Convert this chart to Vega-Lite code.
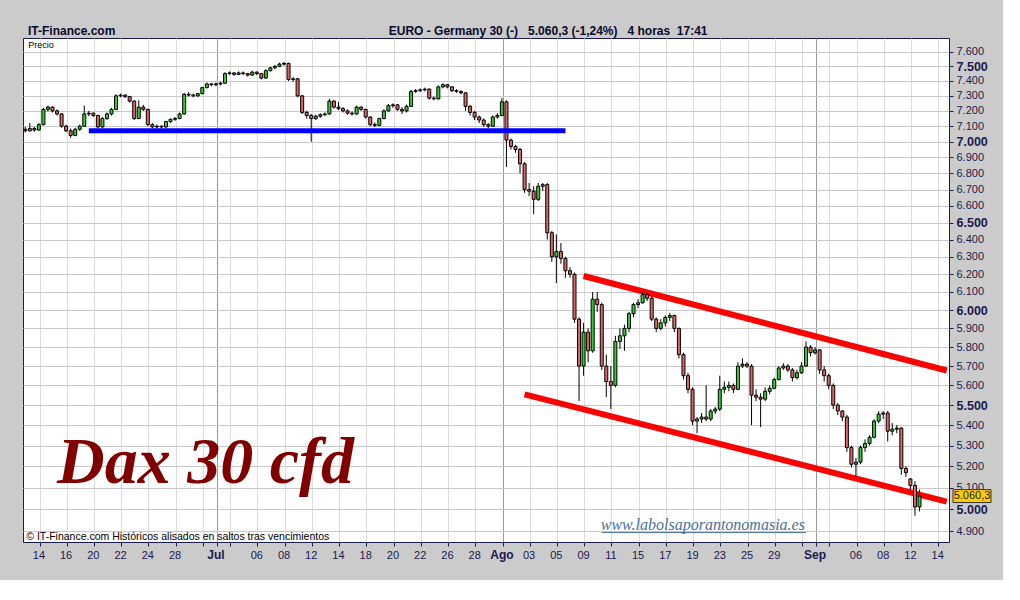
{
"$schema": "https://vega.github.io/schema/vega-lite/v6.json",
"width": 926, "height": 504,
"autosize": {"type": "none"},
"padding": {"left": 23, "top": 38, "right": 54, "bottom": 38},
"background": "#cbcbcb",
"title": {"text": "IT-Finance.com\u00a0\u00a0\u00a0\u00a0\u00a0\u00a0\u00a0\u00a0\u00a0\u00a0\u00a0\u00a0\u00a0\u00a0\u00a0\u00a0\u00a0\u00a0\u00a0\u00a0\u00a0\u00a0\u00a0\u00a0\u00a0\u00a0\u00a0\u00a0\u00a0\u00a0\u00a0\u00a0\u00a0\u00a0\u00a0\u00a0\u00a0\u00a0\u00a0\u00a0\u00a0\u00a0\u00a0\u00a0\u00a0\u00a0\u00a0\u00a0\u00a0\u00a0\u00a0\u00a0\u00a0\u00a0\u00a0\u00a0\u00a0\u00a0\u00a0\u00a0\u00a0\u00a0\u00a0\u00a0\u00a0\u00a0\u00a0\u00a0\u00a0\u00a0\u00a0\u00a0\u00a0\u00a0\u00a0\u00a0\u00a0\u00a0\u00a0\u00a0\u00a0\u00a0EURO - Germany 30 (-)\u00a0\u00a0\u00a05.060,3 (-1,24%)\u00a0\u00a0\u00a04 horas\u00a0\u00a017:41", "anchor": "start", "frame": "group", "dx": 5, "dy": 15, "offset": 3, "baseline": "bottom", "font": "Liberation Sans", "fontSize": 12, "fontWeight": "bold", "color": "#0a0a2a"},
"datasets": {
"ohlc": [
{"t":"2011-06-13 09h","o":7080,"h":7095,"l":7060,"c":7070},{"t":"2011-06-13 13h","o":7070,"h":7120,"l":7065,"c":7085},{"t":"2011-06-13 17h","o":7085,"h":7095,"l":7065,"c":7075},
{"t":"2011-06-14 09h","o":7075,"h":7120,"l":7070,"c":7110},{"t":"2011-06-14 13h","o":7110,"h":7220,"l":7105,"c":7210},{"t":"2011-06-14 17h","o":7210,"h":7235,"l":7195,"c":7225},
{"t":"2011-06-15 09h","o":7225,"h":7230,"l":7190,"c":7200},{"t":"2011-06-15 13h","o":7200,"h":7210,"l":7170,"c":7180},{"t":"2011-06-15 17h","o":7180,"h":7185,"l":7090,"c":7100},
{"t":"2011-06-16 09h","o":7100,"h":7110,"l":7060,"c":7070},{"t":"2011-06-16 13h","o":7070,"h":7085,"l":7025,"c":7040},{"t":"2011-06-16 17h","o":7040,"h":7090,"l":7035,"c":7080},
{"t":"2011-06-17 09h","o":7080,"h":7110,"l":7070,"c":7100},{"t":"2011-06-17 13h","o":7100,"h":7235,"l":7095,"c":7180},{"t":"2011-06-17 17h","o":7180,"h":7200,"l":7165,"c":7185},
{"t":"2011-06-20 09h","o":7185,"h":7190,"l":7160,"c":7170},{"t":"2011-06-20 13h","o":7170,"h":7175,"l":7085,"c":7095},{"t":"2011-06-20 17h","o":7095,"h":7160,"l":7090,"c":7150},
{"t":"2011-06-21 09h","o":7150,"h":7190,"l":7140,"c":7180},{"t":"2011-06-21 13h","o":7180,"h":7220,"l":7170,"c":7210},{"t":"2011-06-21 17h","o":7210,"h":7310,"l":7205,"c":7300},
{"t":"2011-06-22 09h","o":7300,"h":7315,"l":7290,"c":7305},{"t":"2011-06-22 13h","o":7305,"h":7310,"l":7285,"c":7295},{"t":"2011-06-22 17h","o":7295,"h":7300,"l":7255,"c":7265},
{"t":"2011-06-23 09h","o":7265,"h":7270,"l":7140,"c":7150},{"t":"2011-06-23 13h","o":7150,"h":7270,"l":7145,"c":7225},{"t":"2011-06-23 17h","o":7225,"h":7240,"l":7200,"c":7210},
{"t":"2011-06-24 09h","o":7210,"h":7215,"l":7100,"c":7110},{"t":"2011-06-24 13h","o":7110,"h":7120,"l":7085,"c":7095},{"t":"2011-06-24 17h","o":7095,"h":7110,"l":7085,"c":7100},
{"t":"2011-06-27 09h","o":7100,"h":7105,"l":7085,"c":7095},{"t":"2011-06-27 13h","o":7095,"h":7135,"l":7090,"c":7130},{"t":"2011-06-27 17h","o":7130,"h":7150,"l":7120,"c":7145},
{"t":"2011-06-28 09h","o":7145,"h":7160,"l":7135,"c":7150},{"t":"2011-06-28 13h","o":7150,"h":7190,"l":7145,"c":7180},{"t":"2011-06-28 17h","o":7180,"h":7320,"l":7175,"c":7310},
{"t":"2011-06-29 09h","o":7310,"h":7325,"l":7295,"c":7305},{"t":"2011-06-29 13h","o":7305,"h":7315,"l":7290,"c":7300},{"t":"2011-06-29 17h","o":7300,"h":7320,"l":7295,"c":7315},
{"t":"2011-06-30 09h","o":7315,"h":7360,"l":7310,"c":7355},{"t":"2011-06-30 13h","o":7355,"h":7390,"l":7350,"c":7380},{"t":"2011-06-30 17h","o":7380,"h":7385,"l":7365,"c":7375},
{"t":"2011-07-01 09h","o":7375,"h":7390,"l":7365,"c":7380},{"t":"2011-07-01 13h","o":7380,"h":7395,"l":7370,"c":7385},{"t":"2011-07-01 17h","o":7385,"h":7460,"l":7380,"c":7450},
{"t":"2011-07-04 09h","o":7450,"h":7465,"l":7440,"c":7455},{"t":"2011-07-04 13h","o":7455,"h":7460,"l":7435,"c":7445},{"t":"2011-07-04 17h","o":7445,"h":7465,"l":7440,"c":7455},
{"t":"2011-07-05 09h","o":7455,"h":7465,"l":7440,"c":7450},{"t":"2011-07-05 13h","o":7450,"h":7455,"l":7430,"c":7440},{"t":"2011-07-05 17h","o":7440,"h":7470,"l":7435,"c":7460},
{"t":"2011-07-06 09h","o":7460,"h":7465,"l":7440,"c":7450},{"t":"2011-07-06 13h","o":7450,"h":7455,"l":7410,"c":7420},{"t":"2011-07-06 17h","o":7420,"h":7480,"l":7415,"c":7470},
{"t":"2011-07-07 09h","o":7470,"h":7495,"l":7465,"c":7490},{"t":"2011-07-07 13h","o":7490,"h":7510,"l":7480,"c":7500},{"t":"2011-07-07 17h","o":7500,"h":7525,"l":7495,"c":7515},
{"t":"2011-07-08 09h","o":7515,"h":7530,"l":7505,"c":7520},{"t":"2011-07-08 13h","o":7520,"h":7525,"l":7400,"c":7410},{"t":"2011-07-08 17h","o":7410,"h":7425,"l":7395,"c":7415},
{"t":"2011-07-11 09h","o":7415,"h":7420,"l":7290,"c":7300},{"t":"2011-07-11 13h","o":7300,"h":7305,"l":7180,"c":7190},{"t":"2011-07-11 17h","o":7190,"h":7200,"l":7150,"c":7170},
{"t":"2011-07-12 09h","o":7170,"h":7180,"l":7000,"c":7150},{"t":"2011-07-12 13h","o":7150,"h":7175,"l":7140,"c":7165},{"t":"2011-07-12 17h","o":7165,"h":7185,"l":7155,"c":7175},
{"t":"2011-07-13 09h","o":7175,"h":7190,"l":7165,"c":7180},{"t":"2011-07-13 13h","o":7180,"h":7280,"l":7175,"c":7265},{"t":"2011-07-13 17h","o":7265,"h":7270,"l":7215,"c":7225},
{"t":"2011-07-14 09h","o":7225,"h":7260,"l":7205,"c":7215},{"t":"2011-07-14 13h","o":7215,"h":7225,"l":7190,"c":7200},{"t":"2011-07-14 17h","o":7200,"h":7210,"l":7175,"c":7185},
{"t":"2011-07-15 09h","o":7185,"h":7195,"l":7170,"c":7180},{"t":"2011-07-15 13h","o":7180,"h":7235,"l":7175,"c":7225},{"t":"2011-07-15 17h","o":7225,"h":7230,"l":7200,"c":7210},
{"t":"2011-07-18 09h","o":7210,"h":7215,"l":7150,"c":7160},{"t":"2011-07-18 13h","o":7160,"h":7165,"l":7100,"c":7110},{"t":"2011-07-18 17h","o":7110,"h":7125,"l":7095,"c":7105},
{"t":"2011-07-19 09h","o":7105,"h":7155,"l":7100,"c":7150},{"t":"2011-07-19 13h","o":7150,"h":7210,"l":7145,"c":7200},{"t":"2011-07-19 17h","o":7200,"h":7245,"l":7195,"c":7235},
{"t":"2011-07-20 09h","o":7235,"h":7250,"l":7220,"c":7240},{"t":"2011-07-20 13h","o":7240,"h":7245,"l":7200,"c":7210},{"t":"2011-07-20 17h","o":7210,"h":7225,"l":7180,"c":7200},
{"t":"2011-07-21 09h","o":7200,"h":7240,"l":7190,"c":7230},{"t":"2011-07-21 13h","o":7230,"h":7340,"l":7225,"c":7330},{"t":"2011-07-21 17h","o":7330,"h":7345,"l":7320,"c":7335},
{"t":"2011-07-22 09h","o":7335,"h":7350,"l":7325,"c":7340},{"t":"2011-07-22 13h","o":7340,"h":7355,"l":7330,"c":7345},{"t":"2011-07-22 17h","o":7345,"h":7350,"l":7275,"c":7285},
{"t":"2011-07-25 09h","o":7285,"h":7295,"l":7270,"c":7280},{"t":"2011-07-25 13h","o":7280,"h":7370,"l":7275,"c":7360},{"t":"2011-07-25 17h","o":7360,"h":7385,"l":7350,"c":7375},
{"t":"2011-07-26 09h","o":7375,"h":7380,"l":7350,"c":7360},{"t":"2011-07-26 13h","o":7360,"h":7365,"l":7325,"c":7335},{"t":"2011-07-26 17h","o":7335,"h":7345,"l":7320,"c":7330},
{"t":"2011-07-27 09h","o":7330,"h":7335,"l":7310,"c":7320},{"t":"2011-07-27 13h","o":7320,"h":7325,"l":7200,"c":7230},{"t":"2011-07-27 17h","o":7230,"h":7240,"l":7170,"c":7190},
{"t":"2011-07-28 09h","o":7190,"h":7200,"l":7140,"c":7160},{"t":"2011-07-28 13h","o":7160,"h":7170,"l":7120,"c":7140},{"t":"2011-07-28 17h","o":7140,"h":7150,"l":7095,"c":7110},
{"t":"2011-07-29 09h","o":7110,"h":7120,"l":7085,"c":7100},{"t":"2011-07-29 13h","o":7100,"h":7170,"l":7095,"c":7160},{"t":"2011-07-29 17h","o":7160,"h":7185,"l":7150,"c":7170},
{"t":"2011-08-01 09h","o":7170,"h":7285,"l":7165,"c":7260},{"t":"2011-08-01 13h","o":7260,"h":7270,"l":6840,"c":7010},{"t":"2011-08-01 17h","o":7010,"h":7020,"l":6950,"c":6970},
{"t":"2011-08-02 09h","o":6970,"h":6980,"l":6930,"c":6950},{"t":"2011-08-02 13h","o":6950,"h":6960,"l":6800,"c":6860},{"t":"2011-08-02 17h","o":6860,"h":6870,"l":6680,"c":6700},
{"t":"2011-08-03 09h","o":6700,"h":6740,"l":6660,"c":6690},{"t":"2011-08-03 13h","o":6690,"h":6720,"l":6550,"c":6640},{"t":"2011-08-03 17h","o":6640,"h":6740,"l":6630,"c":6720},
{"t":"2011-08-04 09h","o":6720,"h":6740,"l":6690,"c":6730},{"t":"2011-08-04 13h","o":6730,"h":6740,"l":6400,"c":6440},{"t":"2011-08-04 17h","o":6440,"h":6450,"l":6270,"c":6300},
{"t":"2011-08-05 09h","o":6300,"h":6430,"l":6150,"c":6330},{"t":"2011-08-05 13h","o":6330,"h":6380,"l":6260,"c":6290},{"t":"2011-08-05 17h","o":6290,"h":6300,"l":6180,"c":6220},
{"t":"2011-08-08 09h","o":6220,"h":6240,"l":6180,"c":6200},{"t":"2011-08-08 13h","o":6200,"h":6210,"l":5930,"c":5950},{"t":"2011-08-08 17h","o":5950,"h":5960,"l":5520,"c":5700},
{"t":"2011-08-09 09h","o":5700,"h":5930,"l":5650,"c":5880},{"t":"2011-08-09 13h","o":5880,"h":5900,"l":5720,"c":5780},{"t":"2011-08-09 17h","o":5780,"h":6100,"l":5770,"c":6060},
{"t":"2011-08-10 09h","o":6060,"h":6100,"l":5990,"c":6030},{"t":"2011-08-10 13h","o":6030,"h":6040,"l":5680,"c":5700},{"t":"2011-08-10 17h","o":5700,"h":5760,"l":5540,"c":5620},
{"t":"2011-08-11 09h","o":5620,"h":5700,"l":5480,"c":5600},{"t":"2011-08-11 13h","o":5600,"h":5860,"l":5590,"c":5830},{"t":"2011-08-11 17h","o":5830,"h":5900,"l":5790,"c":5860},
{"t":"2011-08-12 09h","o":5860,"h":5920,"l":5780,"c":5900},{"t":"2011-08-12 13h","o":5900,"h":5990,"l":5880,"c":5980},{"t":"2011-08-12 17h","o":5980,"h":6040,"l":5960,"c":6030},
{"t":"2011-08-15 09h","o":6030,"h":6060,"l":6010,"c":6040},{"t":"2011-08-15 13h","o":6040,"h":6100,"l":6035,"c":6085},{"t":"2011-08-15 17h","o":6085,"h":6095,"l":6050,"c":6065},
{"t":"2011-08-16 09h","o":6065,"h":6075,"l":5940,"c":5950},{"t":"2011-08-16 13h","o":5950,"h":5960,"l":5880,"c":5900},{"t":"2011-08-16 17h","o":5900,"h":5950,"l":5890,"c":5930},
{"t":"2011-08-17 09h","o":5930,"h":5970,"l":5910,"c":5960},{"t":"2011-08-17 13h","o":5960,"h":5985,"l":5940,"c":5970},{"t":"2011-08-17 17h","o":5970,"h":5975,"l":5880,"c":5900},
{"t":"2011-08-18 09h","o":5900,"h":5905,"l":5740,"c":5760},{"t":"2011-08-18 13h","o":5760,"h":5770,"l":5630,"c":5650},{"t":"2011-08-18 17h","o":5650,"h":5665,"l":5560,"c":5580},
{"t":"2011-08-19 09h","o":5580,"h":5590,"l":5400,"c":5420},{"t":"2011-08-19 13h","o":5420,"h":5440,"l":5360,"c":5430},{"t":"2011-08-19 17h","o":5430,"h":5460,"l":5410,"c":5440},
{"t":"2011-08-22 09h","o":5440,"h":5600,"l":5420,"c":5430},{"t":"2011-08-22 13h","o":5430,"h":5480,"l":5420,"c":5470},{"t":"2011-08-22 17h","o":5470,"h":5490,"l":5455,"c":5480},
{"t":"2011-08-23 09h","o":5480,"h":5650,"l":5470,"c":5580},{"t":"2011-08-23 13h","o":5580,"h":5620,"l":5560,"c":5590},{"t":"2011-08-23 17h","o":5590,"h":5620,"l":5570,"c":5600},
{"t":"2011-08-24 09h","o":5600,"h":5610,"l":5560,"c":5580},{"t":"2011-08-24 13h","o":5580,"h":5720,"l":5575,"c":5700},{"t":"2011-08-24 17h","o":5700,"h":5740,"l":5690,"c":5710},
{"t":"2011-08-25 09h","o":5710,"h":5720,"l":5690,"c":5700},{"t":"2011-08-25 13h","o":5700,"h":5710,"l":5400,"c":5550},{"t":"2011-08-25 17h","o":5550,"h":5580,"l":5520,"c":5540},
{"t":"2011-08-26 09h","o":5540,"h":5560,"l":5390,"c":5530},{"t":"2011-08-26 13h","o":5530,"h":5590,"l":5520,"c":5570},{"t":"2011-08-26 17h","o":5570,"h":5600,"l":5555,"c":5585},
{"t":"2011-08-29 09h","o":5585,"h":5640,"l":5580,"c":5630},{"t":"2011-08-29 13h","o":5630,"h":5700,"l":5625,"c":5690},{"t":"2011-08-29 17h","o":5690,"h":5715,"l":5680,"c":5700},
{"t":"2011-08-30 09h","o":5700,"h":5710,"l":5670,"c":5680},{"t":"2011-08-30 13h","o":5680,"h":5690,"l":5620,"c":5640},{"t":"2011-08-30 17h","o":5640,"h":5680,"l":5630,"c":5665},
{"t":"2011-08-31 09h","o":5665,"h":5720,"l":5660,"c":5700},{"t":"2011-08-31 13h","o":5700,"h":5830,"l":5695,"c":5800},{"t":"2011-08-31 17h","o":5800,"h":5810,"l":5750,"c":5770},
{"t":"2011-09-01 09h","o":5770,"h":5800,"l":5760,"c":5785},{"t":"2011-09-01 13h","o":5785,"h":5790,"l":5660,"c":5680},{"t":"2011-09-01 17h","o":5680,"h":5700,"l":5620,"c":5650},
{"t":"2011-09-02 09h","o":5650,"h":5660,"l":5580,"c":5600},{"t":"2011-09-02 13h","o":5600,"h":5610,"l":5480,"c":5500},{"t":"2011-09-02 17h","o":5500,"h":5510,"l":5450,"c":5470},
{"t":"2011-09-05 09h","o":5470,"h":5475,"l":5420,"c":5440},{"t":"2011-09-05 13h","o":5440,"h":5450,"l":5270,"c":5290},{"t":"2011-09-05 17h","o":5290,"h":5300,"l":5195,"c":5210},
{"t":"2011-09-06 09h","o":5210,"h":5240,"l":5150,"c":5220},{"t":"2011-09-06 13h","o":5220,"h":5300,"l":5210,"c":5290},{"t":"2011-09-06 17h","o":5290,"h":5330,"l":5270,"c":5310},
{"t":"2011-09-07 09h","o":5310,"h":5350,"l":5300,"c":5340},{"t":"2011-09-07 13h","o":5340,"h":5430,"l":5335,"c":5420},{"t":"2011-09-07 17h","o":5420,"h":5470,"l":5410,"c":5455},
{"t":"2011-09-08 09h","o":5455,"h":5470,"l":5430,"c":5460},{"t":"2011-09-08 13h","o":5460,"h":5470,"l":5320,"c":5370},{"t":"2011-09-08 17h","o":5370,"h":5410,"l":5350,"c":5380},
{"t":"2011-09-09 09h","o":5380,"h":5400,"l":5360,"c":5385},{"t":"2011-09-09 13h","o":5385,"h":5390,"l":5160,"c":5190},{"t":"2011-09-09 17h","o":5190,"h":5200,"l":5150,"c":5170},
{"t":"2011-09-12 09h","o":5140,"h":5145,"l":5090,"c":5110},{"t":"2011-09-12 13h","o":5110,"h":5130,"l":4970,"c":5010},{"t":"2011-09-12 17h","o":5010,"h":5090,"l":4990,"c":5060.3}
]
},
"encoding": {
"y": {"field": "p", "type": "quantitative", "title": null,
 "scale": {"type": "log", "domain": [4852, 7697], "nice": false, "zero": false},
 "axis": {"orient": "right", "title": null,
  "values": [4900,5000,5100,5200,5300,5400,5500,5600,5700,5800,5900,6000,6100,6200,6300,6400,6500,6600,6700,6800,6900,7000,7100,7200,7300,7400,7500,7600],
  "labelExpr": "replace(format(datum.value, ',.0f'), ',', '.')",
  "labelFont": "Liberation Sans",
  "labelFontSize": {"condition": {"test": "datum.value % 500 === 0", "value": 12.5}, "value": 11},
  "labelFontWeight": {"condition": {"test": "datum.value % 500 === 0", "value": "bold"}, "value": "normal"},
  "labelColor": "#1a1a50", "labelPadding": 3, "tickColor": "#1a1a50", "tickSize": 4, "domain": false,
  "grid": true, "gridColor": "#c8c8c8", "gridWidth": 1, "labelOverlap": false}}
},
"layer": [
{
 "encoding": {
  "x": {"field": "t", "type": "ordinal",
   "scale": {"type": "band", "paddingInner": 0, "paddingOuter": 0, "domain": {"unionWith": ["2011-09-13 09h","2011-09-13 13h","2011-09-13 17h","2011-09-14 09h","2011-09-14 13h","2011-09-14 17h"]}},
   "axis": {"orient": "bottom", "title": null, "bandPosition": 0.75,
    "values": ["2011-06-14 09h","2011-06-16 09h","2011-06-20 09h","2011-06-22 09h","2011-06-24 09h","2011-06-28 09h","2011-06-30 09h","2011-07-01 09h","2011-07-04 09h","2011-07-06 09h","2011-07-08 09h","2011-07-12 09h","2011-07-14 09h","2011-07-18 09h","2011-07-20 09h","2011-07-22 09h","2011-07-26 09h","2011-07-28 09h","2011-08-01 09h","2011-08-03 09h","2011-08-05 09h","2011-08-09 09h","2011-08-11 09h","2011-08-15 09h","2011-08-17 09h","2011-08-19 09h","2011-08-23 09h","2011-08-25 09h","2011-08-29 09h","2011-08-31 09h","2011-09-01 09h","2011-09-02 09h","2011-09-06 09h","2011-09-08 09h","2011-09-12 09h","2011-09-14 09h"],
    "labelExpr": "indexof(['2011-06-30','2011-07-04','2011-08-31','2011-09-02'], substring(datum.value,0,10)) >= 0 ? '' : (substring(datum.value,8,10) == '01' ? (substring(datum.value,5,7) == '07' ? 'Jul' : (substring(datum.value,5,7) == '08' ? 'Ago' : 'Sep')) : substring(datum.value,8,10))",
    "labelAngle": 0, "labelFont": "Liberation Sans",
    "labelFontSize": {"condition": {"test": "substring(datum.value,8,10) == '01'", "value": 12}, "value": 11},
    "labelFontWeight": {"condition": {"test": "substring(datum.value,8,10) == '01'", "value": "bold"}, "value": "normal"},
    "labelColor": "#1a1a50", "labelPadding": 3, "labelOverlap": false,
    "tickColor": "#1a1a50", "tickSize": 4, "domain": false,
    "grid": true, "gridWidth": 1,
    "gridColor": {"condition": {"test": "substring(datum.value,8,10) == '01'", "value": "#9a9a9a"}, "value": "#dcdcdc"}}}
 },
 "layer": [
  {
   "data": {"values": [
    {"id": "techo", "t": "2011-08-09 09h", "p": 6190}, {"id": "techo", "t": "2011-09-14 17h", "p": 5677},
    {"id": "suelo", "t": "2011-08-02 17h", "p": 5554}, {"id": "suelo", "t": "2011-09-14 17h", "p": 5035}]},
   "mark": {"type": "line", "color": "#ff0000", "strokeWidth": 6, "strokeCap": "butt", "clip": true},
   "encoding": {"detail": {"field": "id"}}
  },
  {
   "data": {"name": "ohlc"},
   "mark": {"type": "rule", "color": "#000000", "strokeWidth": 1},
   "encoding": {
    "y": {"field": "l", "type": "quantitative", "title": null,
     "scale": {"type": "log", "domain": [4852, 7697], "nice": false, "zero": false}},
    "y2": {"field": "h"}}
  },
  {
   "data": {"name": "ohlc"},
   "mark": {"type": "bar", "width": 3, "stroke": "#000000", "strokeWidth": 1},
   "encoding": {
    "y": {"field": "o", "type": "quantitative", "title": null,
     "scale": {"type": "log", "domain": [4852, 7697], "nice": false, "zero": false}},
    "y2": {"field": "c"},
    "fill": {"condition": {"test": "datum.c >= datum.o", "value": "#33cc33"}, "value": "#e06666"}}
  },
  {
   "data": {"values": [{"t": "2011-06-17 17h", "p": 7070}, {"t": "2011-08-05 17h", "p": 7070}]},
   "mark": {"type": "line", "color": "#0000ff", "strokeWidth": 5, "strokeCap": "butt"},
   "encoding": {}
  },
  {
   "data": {"values": [{"t": "2011-08-10 13h", "p": 4894}, {"t": "2011-08-31 13h", "p": 4894}]},
   "mark": {"type": "line", "color": "#4a7099", "strokeWidth": 1},
   "encoding": {}
  },
  {
   "data": {"values": [{"t": "2011-06-13 09h", "p": 7648, "label": "Precio"}]},
   "mark": {"type": "text", "align": "left", "baseline": "middle", "dx": 3, "font": "Liberation Sans", "fontSize": 9, "color": "#000000"},
   "encoding": {"text": {"field": "label"}}
  },
  {
   "data": {"values": [{"t": "2011-06-15 13h", "p": 5121, "label": "Dax 30 cfd"}]},
   "mark": {"type": "text", "align": "left", "baseline": "alphabetic", "dx": 0, "font": "Liberation Serif", "fontSize": 66, "fontStyle": "italic", "fontWeight": "bold", "color": "#800000"},
   "encoding": {"text": {"field": "label"}}
  },
  {
   "data": {"values": [{"t": "2011-08-10 13h", "p": 4906, "label": "www.labolsaporantonomasia.es"}]},
   "mark": {"type": "text", "align": "left", "baseline": "alphabetic", "dx": -1, "font": "Liberation Serif", "fontSize": 16, "fontStyle": "italic", "color": "#4a7099"},
   "encoding": {"text": {"field": "label"}}
  },
  {
   "data": {"values": [{"t": "2011-06-13 09h", "p": 4862, "label": "© IT-Finance.com  Históricos alisados en saltos tras vencimientos"}]},
   "mark": {"type": "text", "align": "left", "baseline": "alphabetic", "dx": 1, "font": "Liberation Sans", "fontSize": 10.5, "color": "#000000"},
   "encoding": {"text": {"field": "label"}}
  },
  {
   "data": {"values": [{"t": "2011-09-12 17h", "p": 5060.3, "label": "5.060,3"}]},
   "mark": {"type": "point", "shape": "M-1,-0.34H1V0.34H-1Z", "size": 1444, "filled": true, "fill": "#ffcc00", "stroke": "#333333", "strokeWidth": 1, "opacity": 1, "xOffset": 52.5},
   "encoding": {}
  },
  {
   "data": {"values": [{"t": "2011-09-12 17h", "p": 5060.3, "label": "5.060,3"}]},
   "mark": {"type": "text", "align": "center", "baseline": "middle", "xOffset": 52.5, "font": "Liberation Sans", "fontSize": 11, "color": "#1a1a50"},
   "encoding": {"text": {"field": "label"}}
  }
 ]
}
],
"config": {
 "view": {"fill": "#ffffff", "stroke": "#1a1a50", "strokeWidth": 1},
 "font": "Liberation Sans"
}
}
